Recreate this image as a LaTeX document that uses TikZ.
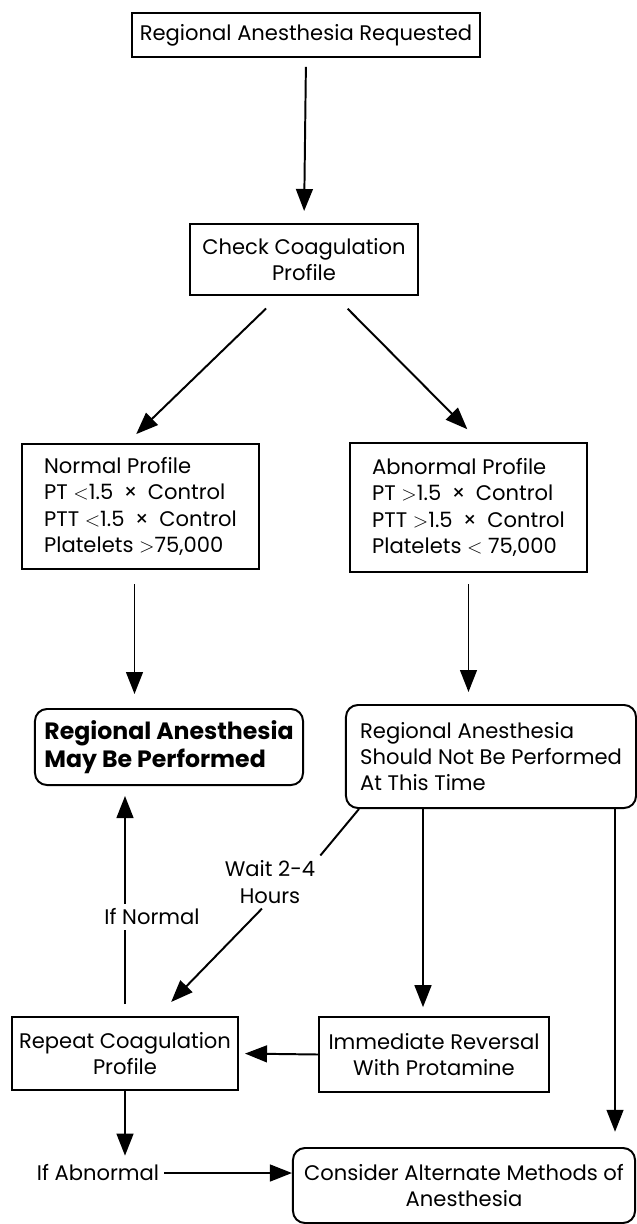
\documentclass[tikz,border=0pt]{standalone}
\usepackage{fontspec}
\setmainfont{Poppins}
\usetikzlibrary{arrows.meta, calc, positioning}

\newcommand{\flowfont}{\fontsize{15}{18.8}\selectfont}
\newcommand{\boldflow}{\fontsize{16.8}{19.5}\selectfont\bfseries}
\newcommand{\xctrl}{\enspace×\enspace Control}

\begin{document}
\begin{tikzpicture}[x=0.025cm, y=-0.025cm, line width=1.4pt,
    >={Triangle[length=0.55cm, width=0.42cm]},
    flowbox/.style={draw, inner sep=0pt, font=\flowfont, align=center},
    roundbox/.style={flowbox, rounded corners=0.3cm},
    listbox/.style={flowbox, align=left, minimum width=5.925cm},
    lbl/.style={inner sep=3pt, font=\flowfont, align=center}]

    \useasboundingbox (0,0) rectangle (637,1224);

    % Boxes
    \node[flowbox, minimum width=8.7cm, minimum height=1.1cm] (req) at (306,35)
        {Regional Anesthesia Requested};
    \node[flowbox, minimum width=5.7cm, minimum height=1.775cm] (check) at (304,259.5)
        {Check Coagulation\\Profile};
    \node[listbox, minimum height=3.125cm] (normal) at (140.5,506.5)
        {Normal Profile\\PT $<$1.5\xctrl\\PTT $<$1.5\xctrl\\Platelets $>$75,000};
    \node[listbox, minimum height=3.225cm] (abnormal) at (468.5,507.5)
        {Abnormal Profile\\PT $>$1.5\xctrl\\PTT $>$1.5\xctrl\\Platelets $<$ 75,000};
    \node[roundbox, align=left, minimum width=6.7cm, minimum height=1.9cm,
          font=\boldflow] (may) at (169,747)
        {Regional Anesthesia\\May Be Performed};
    \node[roundbox, align=left, minimum width=7.25cm, minimum height=2.575cm] (notnow) at (491,756.5)
        {Regional Anesthesia\\Should Not Be Performed\\At This Time};
    \node[flowbox, minimum width=5.65cm, minimum height=1.825cm] (repeat) at (125,1053.5)
        {Repeat Coagulation\\Profile};
    \node[flowbox, minimum width=5.75cm, minimum height=1.875cm] (reversal) at (434,1054.5)
        {Immediate Reversal\\With Protamine};
    \node[roundbox, minimum width=8.55cm, minimum height=1.875cm] (consider) at (464,1185.5)
        {Consider Alternate Methods of\\Anesthesia};

    % Free labels
    \node[lbl] (wait) at (270,882) {Wait 2-4\\Hours};
    \node[lbl] (ifnormal) at (152,917) {If Normal};
    \node[lbl] (ifabnormal) at (98,1173) {If Abnormal};

    \coordinate (normbot) at ($(normal.south)+(-6,0)$);
    \coordinate (revtop) at ($(reversal.north)+(-11,0)$);
    \coordinate (alttop) at ($(consider.north east)+(-21,0)$);

    % Arrows
    \draw[->, shorten <=0.22cm, shorten >=0.3cm] (req.south) -- (check.north);
    \draw[->, shorten <=0.45cm, shorten >=0.32cm]
        ($(check.south)+(-25,0)$) -- ($(normal.north)+(-13.5,0)$);
    \draw[->, shorten <=0.45cm, shorten >=0.45cm]
        ($(check.south)+(31,0)$) -- ($(abnormal.north)+(11.5,0)$);
    \draw[->, shorten <=0.35cm, shorten >=0.35cm] (normbot) -- (normbot |- may.north);
    \draw[->, shorten <=0.28cm, shorten >=0.3cm] (abnormal.south) -- (abnormal.south |- notnow.north);
    \draw[->, shorten >=0.22cm] (revtop |- notnow.south) -- (revtop);
    \draw[->, shorten >=0.38cm] (alttop |- notnow.south) -- (alttop);
    \draw ($(notnow.south west)+(14,0)$) -- (wait.north east);
    \draw[->, shorten >=0.49cm] ($(wait.south)+(-8,0)$) -- ($(repeat.north)+(32.5,0)$);
    \draw[shorten <=0.3cm] (repeat.north) -- (repeat.north |- ifnormal.south);
    \draw[->, shorten >=0.25cm] (repeat.north |- ifnormal.north) -- (repeat.north |- may.south);
    \draw[->, shorten >=0.15cm] (reversal.west) -- (repeat.east);
    \draw[->, shorten >=0.1cm] (repeat.south) -- (repeat.south |- ifabnormal.north);
    \draw[->] (ifabnormal.east) -- (ifabnormal.east -| consider.west);

\end{tikzpicture}
\end{document}
